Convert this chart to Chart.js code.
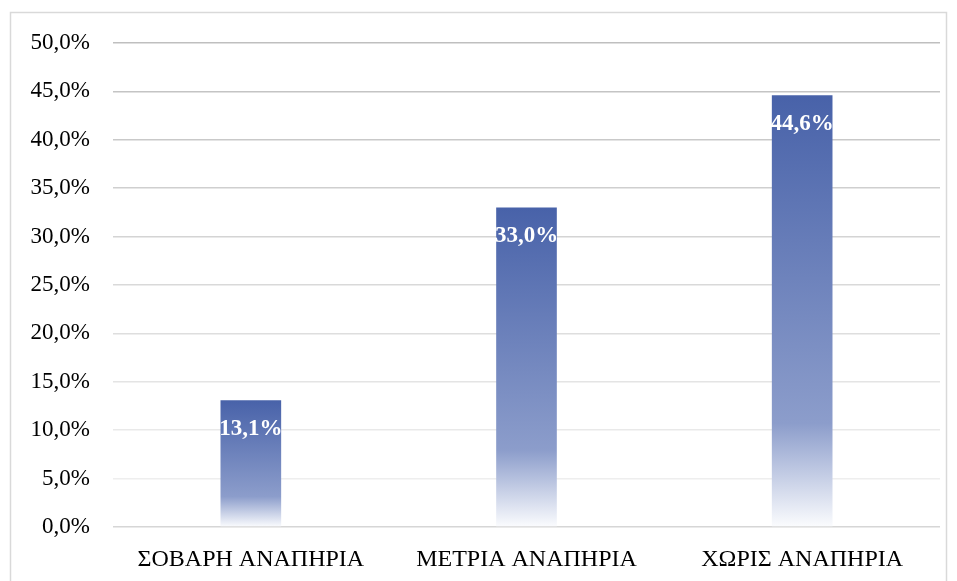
<!DOCTYPE html>
<html>
<head>
<meta charset="utf-8">
<script src="https://cdn.jsdelivr.net/npm/chart.js@4.4.1/dist/chart.umd.min.js"></script>
<style>
  html, body { margin: 0; padding: 0; background: #ffffff; }
  #wrap { position: absolute; left: 0; top: 0; width: 957px; height: 581px; }
</style>
</head>
<body>
<div id="wrap"><canvas id="c" width="957" height="581"></canvas></div>
<script>
const categories = ["ΣΟΒΑΡΗ ΑΝΑΠΗΡΙΑ", "ΜΕΤΡΙΑ ΑΝΑΠΗΡΙΑ", "ΧΩΡΙΣ ΑΝΑΠΗΡΙΑ"];
const values = [13.1, 33.0, 44.6];
const yMin = 0;
const yMax = 50;
const yStep = 5;

const SERIF = '"Liberation Serif", "DejaVu Serif", serif';

function fmt(v) {
  return v.toFixed(1).replace('.', ',') + '%';
}

function barGradient(ctx) {
  const chart = ctx.chart;
  const area = chart.chartArea;
  if (!area || ctx.dataIndex === undefined) return '#4a63a8';
  const y = chart.scales.y;
  const top = y.getPixelForValue(values[ctx.dataIndex]);
  const base = y.getPixelForValue(0);
  const g = chart.ctx.createLinearGradient(0, top, 0, base);
  g.addColorStop(0, '#4862a9');
  g.addColorStop(0.76, '#8c9dcb');
  g.addColorStop(1, '#fbfcfe');
  return g;
}

function gridColor(ctx) {
  const v = ctx.tick ? ctx.tick.value : 0;
  if (v === 0) return '#d6d6d6';
  const t = (v - 5) / 45; // 0 at 5%, 1 at 50%
  const c = Math.round(0xee - t * (0xee - 0xbf));
  return `rgb(${c},${c},${c})`;
}

const frame = {
  id: 'frame',
  beforeDraw(chart) {
    const c = chart.ctx;
    c.save();
    c.strokeStyle = '#d9d9d9';
    c.lineWidth = 1.5;
    c.strokeRect(10.5, 12.5, 936, 600);
    c.restore();
  }
};

const valueLabels = {
  id: 'valueLabels',
  afterDatasetsDraw(chart) {
    const c = chart.ctx;
    const meta = chart.getDatasetMeta(0);
    c.save();
    c.font = 'bold 23px ' + SERIF;
    c.fillStyle = '#ffffff';
    c.textAlign = 'center';
    c.textBaseline = 'middle';
    meta.data.forEach((bar, i) => {
      c.fillText(fmt(values[i]), bar.x, bar.y + 29);
    });
    c.restore();
  }
};

new Chart(document.getElementById('c'), {
  type: 'bar',
  data: {
    labels: categories,
    datasets: [{
      data: values,
      backgroundColor: barGradient,
      borderWidth: 0,
      barPercentage: 0.44,
      categoryPercentage: 0.5
    }]
  },
  options: {
    responsive: false,
    animation: false,
    devicePixelRatio: 1,
    layout: { padding: { left: 10, right: 17, top: 43, bottom: 0 } },
    plugins: {
      legend: { display: false },
      tooltip: { enabled: false }
    },
    scales: {
      x: {
        grid: { display: false, drawTicks: false },
        border: { display: false },
        ticks: {
          color: '#000000',
          font: { family: SERIF, size: 24 },
          padding: 18,
          maxRotation: 0
        },
        afterFit(axis) { axis.height = 54; }
      },
      y: {
        min: yMin,
        max: yMax,
        grid: { color: gridColor, lineWidth: 1.5, drawTicks: false },
        border: { display: false },
        ticks: {
          stepSize: yStep,
          color: '#000000',
          font: { family: SERIF, size: 23 },
          padding: 23,
          callback: (v) => fmt(v)
        },
        afterFit(axis) { axis.width = 103; }
      }
    }
  },
  plugins: [frame, valueLabels]
});
</script>
</body>
</html>
